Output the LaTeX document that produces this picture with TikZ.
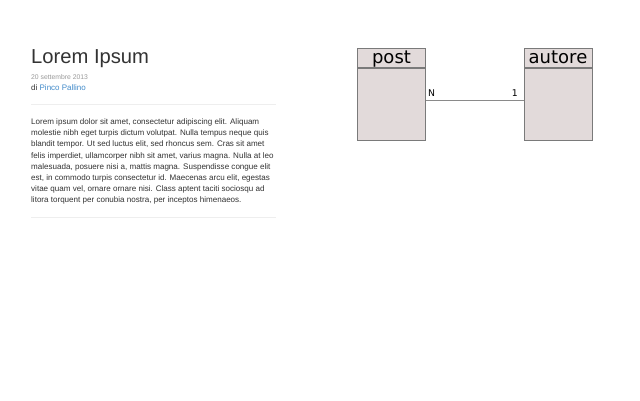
\documentclass[tikz,border=0pt]{standalone}
\usepackage{fontspec}
\setmainfont{Liberation Sans}
\newfontfamily\erdfont{DejaVu Sans}
\definecolor{bodytext}{HTML}{333333}
\definecolor{muted}{HTML}{999999}
\definecolor{linkblue}{HTML}{428BCA}
\definecolor{hrule}{HTML}{EEEEEE}
\definecolor{entityfill}{HTML}{E2DADA}
\definecolor{entityline}{HTML}{7A7A7A}
\definecolor{relline}{HTML}{8A8A8A}
\tikzset{
  txt/.style={inner sep=0pt, anchor=base west, text=bodytext},
  entityhead/.style={draw=entityline, fill=entityfill, line width=1pt, inner sep=0pt,
    minimum width=68pt, minimum height=19pt, text height=14pt, text depth=3pt,
    font=\erdfont\fontsize{18}{18}\selectfont, text=black},
  entitybody/.style={draw=entityline, fill=entityfill, line width=1pt, inner sep=0pt,
    minimum width=68pt, minimum height=72pt},
  card/.style={inner sep=0pt, font=\erdfont\fontsize{9.3}{10}\selectfont, text=black},
  rel/.style={draw=relline, line width=1pt},
  sep/.style={draw=hrule, line width=1pt}
}
\begin{document}
\begin{tikzpicture}[x=1pt,y=-1pt]
\useasboundingbox[fill=white] (0,0) rectangle (640,400);

% article column
\node[txt, font=\fontsize{20.2}{22}\selectfont] (title) at (31,63) {Lorem Ipsum};
\node[txt, text=muted, font=\fontsize{6.8}{8}\selectfont] (date) at (31,79.5) {20 settembre 2013};
\node[txt, font=\fontsize{8}{10}\selectfont] (byline) at (31,90) {di \textcolor{linkblue}{Pinco Pallino}};
\coordinate (r1a) at (31,104.5);
\coordinate (r1b) at (276,104.5);
\draw[sep] (r1a) -- (r1b);
\node[txt, anchor=north west, align=left, font=\fontsize{8.05}{11.2}\selectfont] (body) at (31,118.5)
{Lorem ipsum dolor sit amet, consectetur adipiscing elit. Aliquam\\
molestie nibh eget turpis dictum volutpat. Nulla tempus neque quis\\
blandit tempor. Ut sed luctus elit, sed rhoncus sem. Cras sit amet\\
felis imperdiet, ullamcorper nibh sit amet, varius magna. Nulla at leo\\
malesuada, posuere nisi a, mattis magna. Suspendisse congue elit\\
est, in commodo turpis consectetur id. Maecenas arcu elit, egestas\\
vitae quam vel, ornare ornare nisi. Class aptent taciti sociosqu ad\\
litora torquent per conubia nostra, per inceptos himenaeos.};
\coordinate (r2a) at (31,217.5);
\coordinate (r2b) at (276,217.5);
\draw[sep] (r2a) -- (r2b);

% entity-relationship diagram
\node[entitybody, anchor=north west] (postbody) at (357,68) {};
\node[entityhead, anchor=south west] (posthead) at (357,68) {post};
\node[entitybody, anchor=north west] (autorebody) at (523.5,68) {};
\node[entityhead, anchor=south west] (autorehead) at (523.5,68) {autore};
\coordinate (link) at (0,100.5);
\draw[rel] (postbody.east |- link) -- (autorebody.west |- link);
\node[card, anchor=base west] (cardN) at (428,96.5) {N};
\node[card, anchor=base east] (card1) at (518,96.5) {1};
\end{tikzpicture}
\end{document}
